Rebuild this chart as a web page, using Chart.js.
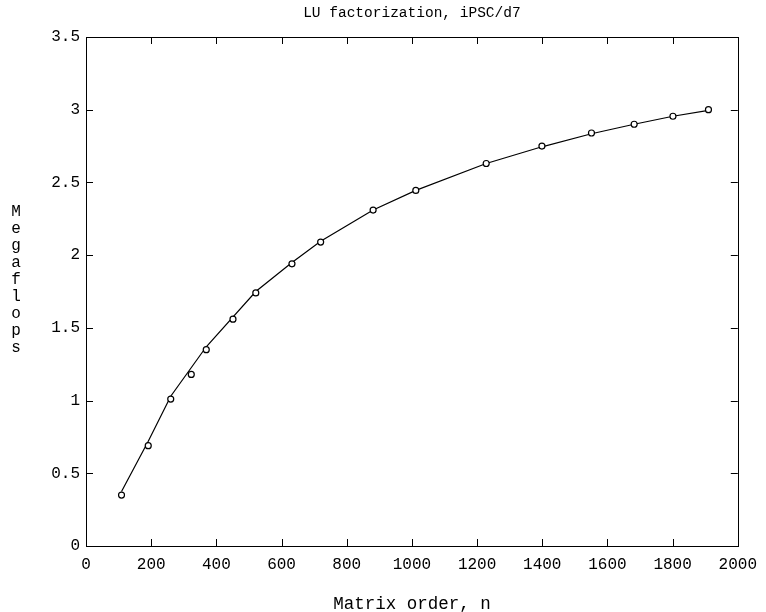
<!DOCTYPE html>
<html>
<head>
<meta charset="utf-8">
<script src="https://cdn.jsdelivr.net/npm/chart.js@4/dist/chart.umd.min.js"></script>
<style>
  html, body { margin: 0; padding: 0; background: #fff; }
  #wrap { width: 766px; height: 612px; position: relative; }
</style>
</head>
<body>
<div id="wrap"><canvas id="c" width="766" height="612"></canvas></div>
<script>
// ---- data ----
const chartTitle = "LU factorization, iPSC/d7";
const xTitle = "Matrix order, n";
const yTitle = "Megaflops";

// measured points (circles)
const pointN = [109, 191, 260, 323, 369, 451, 521, 632, 720, 881, 1012, 1228, 1399, 1551, 1682, 1801, 1910];
const pointMflops = [0.35, 0.69, 1.01, 1.18, 1.35, 1.56, 1.74, 1.94, 2.09, 2.31, 2.445, 2.63, 2.75, 2.84, 2.90, 2.955, 3.0];

// fitted curve (solid line)
const fitN = [109, 191, 260, 369, 521, 632, 720, 881, 1012, 1228, 1399, 1551, 1682, 1801, 1910];
const fitMflops = [0.375, 0.72, 1.03, 1.37, 1.75, 1.95, 2.095, 2.31, 2.445, 2.63, 2.745, 2.835, 2.9, 2.955, 2.995];

// tick labels
const xTickValues = [0, 200, 400, 600, 800, 1000, 1200, 1400, 1600, 1800, 2000];
const yTickValues = [0, 0.5, 1, 1.5, 2, 2.5, 3, 3.5];

const FONT = "'Liberation Mono', 'DejaVu Sans Mono', monospace";

const toXY = (xs, ys) => xs.map((x, i) => ({ x: x, y: ys[i] }));

const framePlugin = {
  id: 'frame',
  afterDraw(chart) {
    const { ctx, chartArea: a, scales } = chart;
    ctx.save();
    ctx.strokeStyle = '#000';
    ctx.lineWidth = 1;
    // box
    ctx.strokeRect(Math.round(a.left) + 0.5, Math.round(a.top) + 0.5,
                   Math.round(a.right - a.left), Math.round(a.bottom - a.top));
    // inward ticks
    const tl = 7;
    ctx.beginPath();
    xTickValues.forEach(v => {
      const px = Math.round(scales.x.getPixelForValue(v)) + 0.5;
      ctx.moveTo(px, a.bottom); ctx.lineTo(px, a.bottom - tl);
      ctx.moveTo(px, a.top); ctx.lineTo(px, a.top + tl);
    });
    yTickValues.forEach(v => {
      const py = Math.round(scales.y.getPixelForValue(v)) + 0.5;
      ctx.moveTo(a.left, py); ctx.lineTo(a.left + tl, py);
      ctx.moveTo(a.right, py); ctx.lineTo(a.right - tl, py);
    });
    ctx.stroke();

    // texts
    ctx.fillStyle = '#000';
    ctx.textAlign = 'center';
    ctx.textBaseline = 'middle';
    ctx.font = '14.5px ' + FONT;
    ctx.fillText(chartTitle, (a.left + a.right) / 2, 13);
    ctx.font = '17.5px ' + FONT;
    ctx.fillText(xTitle, (a.left + a.right) / 2, 604);
    ctx.font = '16px ' + FONT;
    const letters = Array.from(yTitle);
    letters.forEach((ch, i) => {
      ctx.fillText(ch, 16, 212 + i * 17);
    });
    ctx.restore();
  }
};

new Chart(document.getElementById('c'), {
  type: 'scatter',
  data: {
    datasets: [
      {
        label: 'fit',
        data: toXY(fitN, fitMflops),
        showLine: true,
        borderColor: '#000',
        borderWidth: 1.2,
        pointRadius: 0,
        pointHoverRadius: 0,
        tension: 0,
        fill: false,
        order: 2
      },
      {
        label: 'measured',
        data: toXY(pointN, pointMflops),
        showLine: false,
        pointStyle: 'circle',
        pointRadius: 3,
        pointBorderWidth: 1.2,
        pointBorderColor: '#000',
        pointBackgroundColor: '#fff',
        order: 1
      }
    ]
  },
  options: {
    responsive: false,
    animation: false,
    devicePixelRatio: 1,
    layout: { padding: { top: 37, right: 24, left: 0, bottom: 0 } },
    plugins: {
      legend: { display: false },
      title: { display: false },
      tooltip: { enabled: false }
    },
    scales: {
      x: {
        type: 'linear',
        min: 0, max: 2000,
        afterBuildTicks: s => { s.ticks = xTickValues.map(v => ({ value: v })); },
        afterFit: s => { s.height = 66; },
        grid: { display: false, drawTicks: false },
        border: { display: false },
        ticks: {
          color: '#000',
          padding: 9,
          maxRotation: 0,
          autoSkip: false,
          font: { family: FONT, size: 16 },
          callback: v => String(v)
        }
      },
      y: {
        type: 'linear',
        min: 0, max: 3.5,
        afterBuildTicks: s => { s.ticks = yTickValues.map(v => ({ value: v })); },
        afterFit: s => { s.width = 86; },
        grid: { display: false, drawTicks: false },
        border: { display: false },
        ticks: {
          color: '#000',
          padding: 6,
          autoSkip: false,
          font: { family: FONT, size: 16 },
          callback: v => String(v)
        }
      }
    }
  },
  plugins: [framePlugin]
});
</script>
</body>
</html>
